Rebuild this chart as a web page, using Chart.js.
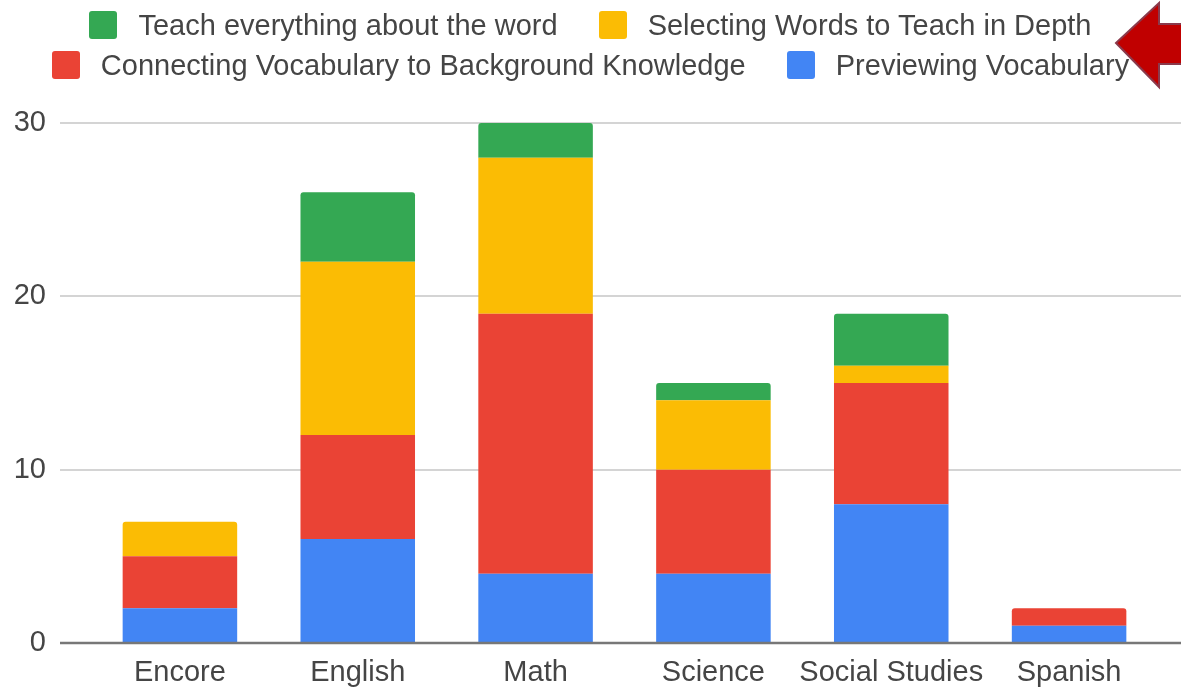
<!DOCTYPE html>
<html>
<head>
<meta charset="utf-8">
<script src="https://cdn.jsdelivr.net/npm/chart.js@4/dist/chart.umd.min.js"></script>
<style>
  body { margin: 0; background: #fff; }
  #wrap { position: relative; width: 1181px; height: 689px; overflow: hidden; }
  #legend {
    position: absolute; left: 0; top: 5px; width: 1181px;
    display: flex; flex-wrap: wrap; justify-content: center; column-gap: 41px;
    font-family: "Liberation Sans", Arial, sans-serif; font-size: 29px; color: #454545;
  }
  #legend .item { display: flex; align-items: center; height: 40px; line-height: 40px; white-space: nowrap; }
  #legend .box { width: 28px; height: 28px; border-radius: 3px; margin-right: 21px; }
  #arrow { position: absolute; left: 0; top: 0; }
</style>
</head>
<body>
<div id="wrap">
  <canvas id="chart" width="1181" height="689"></canvas>
  <div id="legend"></div>
  <svg id="arrow" width="1181" height="100">
    <polygon points="1116,43 1159,3 1159,24 1186,24 1186,64 1159,64 1159,87"
             fill="#c00000" stroke="#8a3a4c" stroke-width="2"/>
  </svg>
</div>
<script>
const subjects = ["Encore", "English", "Math", "Science", "Social Studies", "Spanish"];
const previewing = [2, 6, 4, 4, 8, 1];
const connecting = [3, 6, 15, 6, 7, 1];
const selecting = [2, 10, 9, 4, 1, 0];
const teachAll = [0, 4, 2, 1, 3, 0];
const yTicks = [0, 10, 20, 30];

const font = { family: '"Liberation Sans", Arial, sans-serif', size: 29 };

// grid lines run past the plot area like the original, so draw them here
const gridLines = {
  id: 'gridLines',
  beforeDatasetsDraw(chart) {
    const ctx = chart.ctx, y = chart.scales.y;
    ctx.save();
    ctx.strokeStyle = '#d4d4d4';
    ctx.lineWidth = 2;
    yTicks.forEach(function (v) {
      if (v === 0) return;
      const py = Math.round(y.getPixelForValue(v));
      ctx.beginPath();
      ctx.moveTo(60, py);
      ctx.lineTo(chart.width, py);
      ctx.stroke();
    });
    ctx.restore();
  },
  afterDatasetsDraw(chart) {
    const ctx = chart.ctx, py = Math.round(chart.scales.y.getPixelForValue(0));
    ctx.save();
    ctx.strokeStyle = '#777';
    ctx.lineWidth = 2.5;
    ctx.beginPath();
    ctx.moveTo(60, py);
    ctx.lineTo(chart.width, py);
    ctx.stroke();
    ctx.restore();
  }
};

const chart = new Chart(document.getElementById('chart'), {
  type: 'bar',
  data: {
    labels: subjects,
    datasets: [
      { label: 'Previewing Vocabulary', data: previewing, backgroundColor: '#4285f4' },
      { label: 'Connecting Vocabulary to Background Knowledge', data: connecting, backgroundColor: '#ea4335' },
      { label: 'Selecting Words to Teach in Depth', data: selecting, backgroundColor: '#fbbc04' },
      { label: 'Teach everything about the word', data: teachAll, backgroundColor: '#34a853' }
    ]
  },
  options: {
    responsive: false,
    animation: false,
    layout: { padding: { top: 123, right: 23, left: 0, bottom: 0 } },
    datasets: { bar: { borderRadius: 3, borderWidth: 0, categoryPercentage: 1, barPercentage: 0.644 } },
    plugins: { legend: { display: false }, tooltip: { enabled: false } },
    scales: {
      x: {
        stacked: true,
        grid: { display: false, drawTicks: false },
        border: { display: false },
        ticks: { color: '#454545', font: font, padding: 13, maxRotation: 0, autoSkip: false },
        afterFit(scale) { scale.height = 46; scale.paddingLeft = 0; scale.paddingRight = 0; }
      },
      y: {
        stacked: true,
        min: 0,
        max: 30,
        grid: { display: false, drawTicks: false },
        border: { display: false },
        ticks: { color: '#454545', font: font, padding: 45, stepSize: 10 },
        afterFit(scale) { scale.width = 91; scale.paddingTop = 0; scale.paddingBottom = 0; }
      }
    }
  },
  plugins: [gridLines]
});

// legend in the same order as the original: top of the stack first
const legend = document.getElementById('legend');
chart.data.datasets.slice().reverse().forEach(function (ds) {
  const item = document.createElement('div');
  item.className = 'item';
  const box = document.createElement('span');
  box.className = 'box';
  box.style.background = ds.backgroundColor;
  item.appendChild(box);
  item.appendChild(document.createTextNode(ds.label));
  legend.appendChild(item);
});
</script>
</body>
</html>
